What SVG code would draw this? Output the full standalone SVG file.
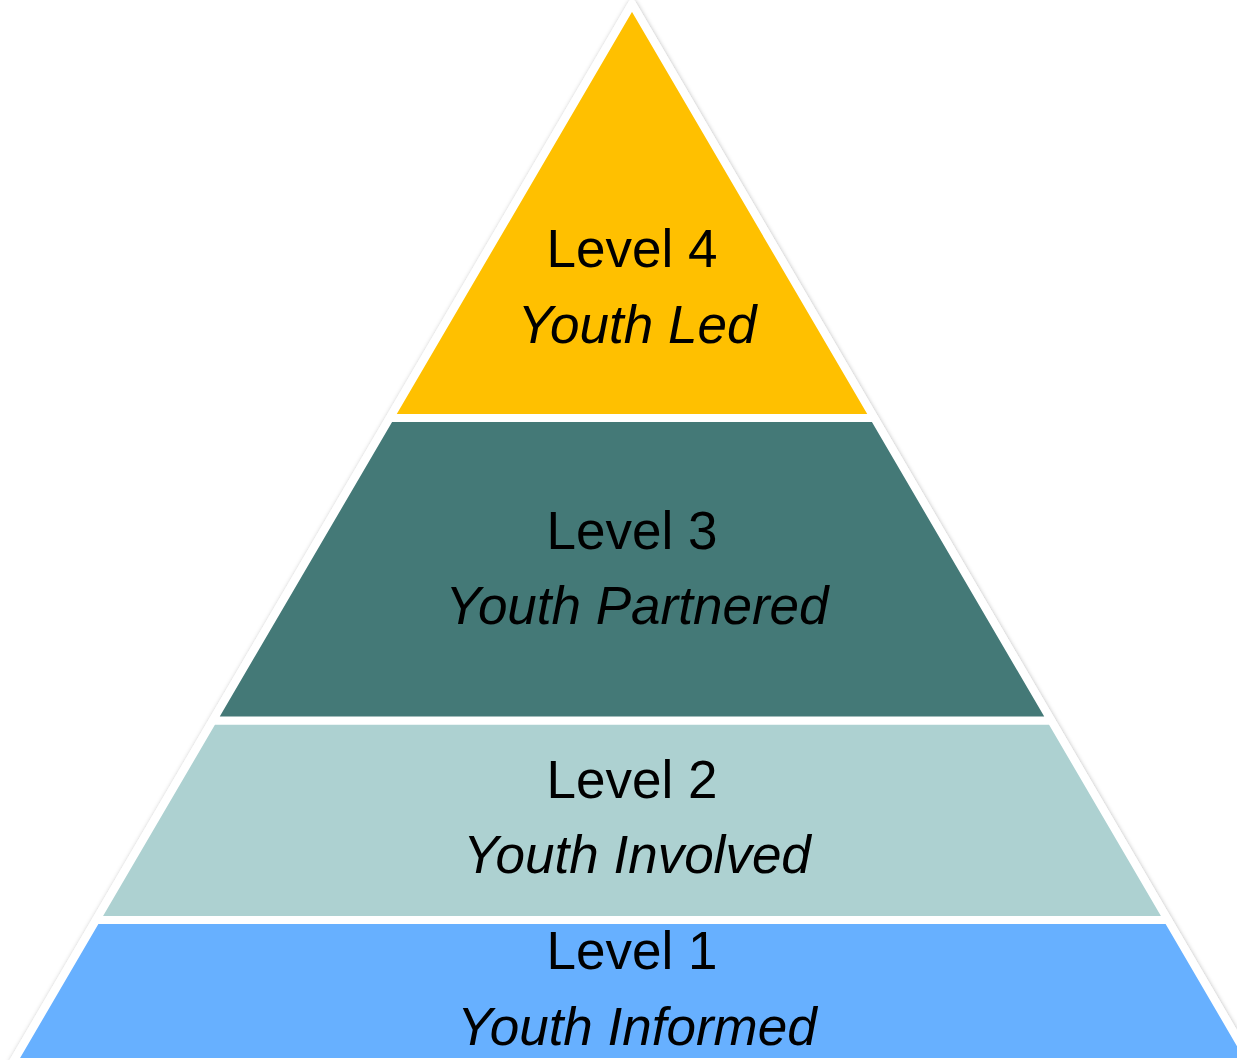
<svg xmlns="http://www.w3.org/2000/svg" width="1237" height="1060" viewBox="0 0 1237 1060">
  <defs>
    <filter id="shadow" x="-5%" y="-5%" width="110%" height="110%">
      <feDropShadow dx="0.5" dy="0.5" stdDeviation="2" flood-color="#000" flood-opacity="0.28"/>
    </filter>
  </defs>
  <style>
    .seg { stroke: #ffffff; stroke-width: 8; stroke-linejoin: round; }
    .lvl { font-family: "Liberation Sans", Arial, sans-serif; font-size: 53px; fill: #000000; text-anchor: middle; }
    .sub { font-family: "Liberation Sans", Arial, sans-serif; font-size: 53px; font-style: italic; fill: #000000; text-anchor: middle; }
  </style>
  <rect width="1237" height="1060" fill="#ffffff"/>
  <polygon points="632,4 1250.9,1062 13.1,1062" fill="#ffffff" stroke="#ffffff" stroke-width="8" stroke-linejoin="round" filter="url(#shadow)"/>
  <g id="level1">
    <polygon class="seg" points="96.1,920 1167.9,920 1250.9,1062 13.1,1062" fill="#67B0FF"/>
    <text class="lvl" x="632" y="969">Level 1</text>
    <text class="sub" x="637" y="1045">Youth Informed</text>
  </g>
  <g id="level2">
    <polygon class="seg" points="212.8,720.5 1051.2,720.5 1167.9,920 96.1,920" fill="#ADD1D1"/>
    <text class="lvl" x="632" y="798">Level 2</text>
    <text class="sub" x="637" y="873">Youth Involved</text>
  </g>
  <g id="level3">
    <polygon class="seg" points="389.8,418 874.2,418 1051.2,720.5 212.8,720.5" fill="#447977"/>
    <text class="lvl" x="632" y="549">Level 3</text>
    <text class="sub" x="637" y="624">Youth Partnered</text>
  </g>
  <g id="level4">
    <polygon class="seg" points="632,4 874.2,418 389.8,418" fill="#FFC000"/>
    <text class="lvl" x="632" y="267">Level 4</text>
    <text class="sub" x="637" y="343">Youth Led</text>
  </g>
</svg>
